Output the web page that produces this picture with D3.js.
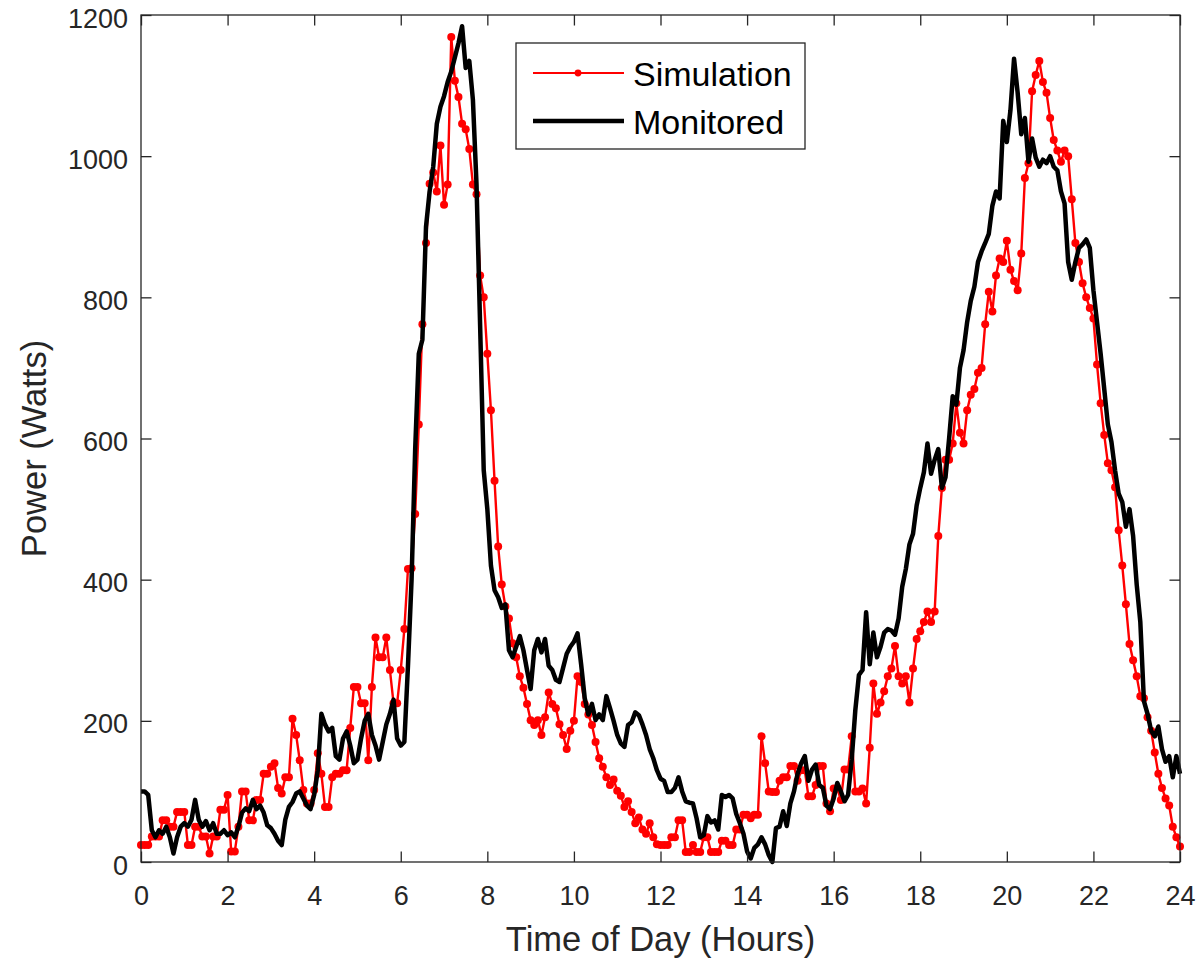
<!DOCTYPE html>
<html>
<head>
<meta charset="utf-8">
<script src="https://cdn.jsdelivr.net/npm/d3@7/dist/d3.min.js"></script>
<style>
  body { margin: 0; background: #fff; }
  svg { display: block; font-family: "Liberation Sans", Arial, Helvetica, sans-serif; }
  .axis text { fill: #262626; font-size: 27px; }
  .axis line { stroke: #262626; stroke-width: 1.3; }
  .title { fill: #262626; font-size: 34.5px; }
  .legend text { fill: #000; font-size: 34px; }
</style>
</head>
<body>
<div id="chart"></div>
<script>
(function () {
  const margin = {top: 15, right: 21, bottom: 101, left: 141};
  const width = 1201 - margin.left - margin.right;
  const height = 963 - margin.top - margin.bottom;

  // samples every 5 minutes, 00:00 .. 24:00
  const stepHours = 5 / 60;

  const xTicks = [0, 2, 4, 6, 8, 10, 12, 14, 16, 18, 20, 22, 24];
  const yTicks = [0, 200, 400, 600, 800, 1000, 1200];

  const seriesNames = ["Simulation", "Monitored"];

  // simulated household load (W)
  const simulation = [
    24, 24, 24, 36, 36, 36, 59, 59, 50, 50, 71, 71,
    71, 24, 24, 50, 50, 36, 36, 12, 36, 36, 74, 74,
    95, 15, 15, 50, 100, 100, 59, 59, 88, 88, 125, 125,
    135, 140, 105, 97, 120, 120, 203, 180, 144, 102, 83, 83,
    102, 154, 125, 78, 78, 120, 125, 125, 130, 130, 190, 248,
    248, 225, 225, 144, 248, 318, 290, 290, 318, 272, 225, 225,
    272, 330, 415, 416, 493, 620, 762, 877, 961, 977, 950, 1015,
    931, 960, 1169, 1107, 1084, 1046, 1038, 1010, 960, 946, 831, 800,
    720, 640, 540, 447, 393, 362, 345, 310, 290, 263, 247, 224,
    201, 194, 201, 180, 205, 240, 224, 218, 195, 180, 160, 186,
    200, 263, 255, 224, 209, 194, 170, 147, 135, 120, 109, 117,
    101, 94, 78, 86, 71, 55, 63, 46, 40, 55, 35, 25,
    24, 24, 24, 35, 35, 59, 59, 14, 14, 24, 14, 14,
    35, 35, 14, 14, 14, 30, 30, 24, 24, 46, 46, 67,
    67, 62, 67, 67, 178, 140, 100, 99, 99, 115, 120, 120,
    136, 136, 115, 130, 130, 93, 93, 109, 136, 136, 83, 72,
    104, 104, 88, 131, 131, 178, 100, 100, 104, 83, 162, 253,
    210, 226, 242, 263, 274, 306, 263, 253, 263, 226, 274, 316,
    327, 340, 355, 340, 355, 462, 530, 570, 570, 593, 650, 608,
    593, 640, 662, 670, 693, 700, 762, 808, 780, 831, 855, 850,
    880, 839, 823, 810, 862, 969, 990, 1092, 1115, 1135, 1105, 1090,
    1054, 1023, 1008, 992, 1008, 1000, 939, 877, 850, 820, 800, 785,
    770, 705, 650, 605, 565, 555, 531, 470, 420, 365, 309, 286,
    263, 235, 232, 205, 186, 155, 125, 105, 90, 80, 50, 35,
    22
  ];

  // monitored household load (W)
  const monitored = [
    100, 100, 95, 45, 35, 45, 40, 50, 35, 12, 35, 50,
    55, 50, 60, 88, 60, 50, 58, 45, 55, 40, 40, 45,
    38, 42, 35, 50, 70, 76, 72, 88, 75, 80, 70, 52,
    48, 40, 30, 24, 60, 78, 85, 97, 100, 90, 80, 75,
    95, 130, 210, 195, 185, 190, 150, 145, 175, 185, 165, 140,
    145, 175, 200, 210, 180, 165, 145, 170, 195, 210, 230, 175,
    165, 170, 278, 400, 585, 720, 740, 900, 950, 985, 1046, 1070,
    1085, 1105, 1120, 1140, 1160, 1184, 1125, 1135, 1080, 960, 760, 555,
    500, 420, 385, 375, 360, 365, 300, 290, 305, 320, 300, 272,
    245, 300, 316, 297, 316, 278, 272, 258, 255, 275, 295, 305,
    312, 324, 280, 232, 209, 224, 201, 209, 201, 235, 218, 200,
    180, 168, 163, 194, 198, 212, 208, 195, 180, 160, 147, 130,
    118, 115, 99, 99, 105, 120, 100, 86, 84, 83, 62, 35,
    38, 65, 56, 59, 46, 95, 92, 95, 90, 68, 55, 40,
    15, 5, 20, 25, 35, 25, 10, 0, 48, 50, 72, 51,
    83, 100, 125, 140, 150, 115, 131, 138, 109, 105, 80, 75,
    90, 112, 100, 86, 95, 145, 215, 265, 272, 354, 280, 325,
    290, 305, 325, 330, 328, 322, 345, 390, 415, 450, 465, 505,
    530, 552, 593, 550, 570, 585, 530, 545, 600, 660, 648, 700,
    725, 765, 795, 815, 850, 865, 877, 890, 930, 950, 940, 1050,
    1020, 1065, 1138, 1090, 1031, 1054, 992, 1025, 998, 985, 995, 990,
    1000, 985, 980, 950, 933, 850, 825, 850, 870, 875, 882, 870,
    810, 765, 720, 670, 620, 595, 555, 522, 510, 475, 500, 462,
    393, 340, 228, 210, 186, 178, 192, 160, 142, 150, 120, 150,
    125
  ];

  const x = d3.scaleLinear().domain([0, 24]).range([0, width]);
  const y = d3.scaleLinear().domain([0, 1200]).range([height, 0]);

  const svg = d3.select("#chart").append("svg")
    .attr("width", width + margin.left + margin.right)
    .attr("height", height + margin.top + margin.bottom);

  const g = svg.append("g")
    .attr("transform", "translate(" + margin.left + "," + margin.top + ")");

  const toPoints = function (values) {
    return values.map(function (v, i) { return {h: i * stepHours, v: v}; });
  };

  const line = d3.line()
    .x(function (d) { return x(d.h); })
    .y(function (d) { return y(d.v); });

  const simPts = toPoints(simulation);
  const monPts = toPoints(monitored);

  // simulation: red line with dot markers
  g.append("path")
    .attr("d", line(simPts))
    .attr("fill", "none")
    .attr("stroke", "#ff0000")
    .attr("stroke-width", 2.4)
    .attr("stroke-linejoin", "round");

  g.append("g").selectAll("circle")
    .data(simPts)
    .join("circle")
    .attr("cx", function (d) { return x(d.h); })
    .attr("cy", function (d) { return y(d.v); })
    .attr("r", 4)
    .attr("fill", "#ff0000");

  // monitored: thick black line on top
  g.append("path")
    .attr("d", line(monPts))
    .attr("fill", "none")
    .attr("stroke", "#000")
    .attr("stroke-width", 4.5)
    .attr("stroke-linejoin", "round");

  // axes, ticks pointing inward on all four sides
  g.append("g")
    .attr("class", "axis")
    .attr("transform", "translate(0," + height + ")")
    .call(d3.axisBottom(x).tickValues(xTicks).tickSizeInner(-10.5).tickSizeOuter(0).tickPadding(24))
    .call(function (s) { s.select(".domain").remove(); });

  g.append("g")
    .attr("class", "axis")
    .call(d3.axisTop(x).tickValues(xTicks).tickSizeInner(-10.5).tickSizeOuter(0).tickFormat(""))
    .call(function (s) { s.select(".domain").remove(); });

  const left = g.append("g")
    .attr("class", "axis")
    .call(d3.axisLeft(y).tickValues(yTicks).tickFormat(d3.format("d"))
      .tickSizeInner(-10.5).tickSizeOuter(0).tickPadding(13))
    .call(function (s) { s.select(".domain").remove(); });
  left.selectAll("text").attr("dy", "0.45em");

  g.append("g")
    .attr("class", "axis")
    .attr("transform", "translate(" + width + ",0)")
    .call(d3.axisRight(y).tickValues(yTicks).tickSizeInner(-10.5).tickSizeOuter(0).tickFormat(""))
    .call(function (s) { s.select(".domain").remove(); });

  g.append("rect")
    .attr("width", width)
    .attr("height", height)
    .attr("fill", "none")
    .attr("stroke", "#262626")
    .attr("stroke-width", 1.3);

  // axis titles
  svg.append("text")
    .attr("class", "title")
    .attr("x", margin.left + width / 2)
    .attr("y", 951)
    .attr("text-anchor", "middle")
    .text("Time of Day (Hours)");

  svg.append("text")
    .attr("class", "title")
    .attr("transform", "translate(46," + (margin.top + height / 2 + 10) + ") rotate(-90)")
    .attr("text-anchor", "middle")
    .text("Power (Watts)");

  // legend
  const legend = svg.append("g")
    .attr("class", "legend")
    .attr("transform", "translate(516,43)");

  legend.append("rect")
    .attr("width", 289)
    .attr("height", 106)
    .attr("fill", "#fff")
    .attr("stroke", "#262626")
    .attr("stroke-width", 1.3);

  legend.append("line")
    .attr("x1", 17).attr("x2", 108).attr("y1", 30).attr("y2", 30)
    .attr("stroke", "#ff0000").attr("stroke-width", 2);
  legend.append("circle")
    .attr("cx", 62).attr("cy", 30).attr("r", 3.4).attr("fill", "#ff0000");
  legend.append("line")
    .attr("x1", 17).attr("x2", 108).attr("y1", 78).attr("y2", 78)
    .attr("stroke", "#000").attr("stroke-width", 4.5);

  legend.selectAll("text.name")
    .data(seriesNames)
    .join("text")
    .attr("class", "name")
    .attr("x", 117)
    .attr("y", function (d, i) { return 43 + i * 48; })
    .text(function (d) { return d; });
})();
</script>
</body>
</html>
